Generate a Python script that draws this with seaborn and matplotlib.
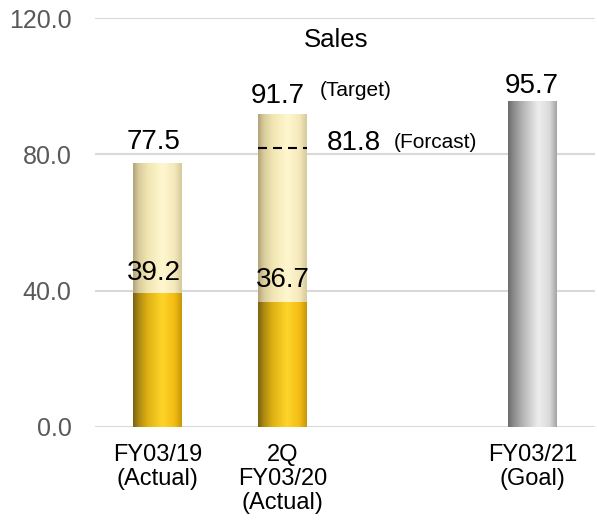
import numpy as np
import pandas as pd
import matplotlib
matplotlib.use("Agg")
import matplotlib.pyplot as plt
from matplotlib.colors import LinearSegmentedColormap
import seaborn as sns

# ---- data -------------------------------------------------------------
categories = ["FY03/19\n(Actual)", "2Q\nFY03/20\n(Actual)", "FY03/21\n(Goal)"]
totals = [77.5, 91.7, 95.7]                 # full-year figures
first_half_cats = ["FY03/19\n(Actual)", "2Q\nFY03/20\n(Actual)"]
first_half = [39.2, 36.7]                   # first-half portion
forecast_value = 81.8                        # FY03/20 forecast
y_ticks = [0, 40, 80, 120]
slot_order = [categories[0], categories[1], " ", categories[2]]

# ---- style ------------------------------------------------------------
sns.set_theme(style="white")
plt.rcParams["font.family"] = ["Liberation Sans", "DejaVu Sans"]

GOLD = [(0.00, "#7a6010"), (0.12, "#ad8a12"), (0.30, "#dfb114"),
        (0.60, "#ffd52a"), (0.85, "#f3bc14"), (1.00, "#c69808")]
PALE = [(0.00, "#b2a378"), (0.12, "#d9cc9c"), (0.30, "#f1e5b2"),
        (0.60, "#fff7cf"), (0.85, "#f5e9bc"), (1.00, "#d5c99c")]
GRAY = [(0.00, "#6c6c6c"), (0.12, "#8c8c8c"), (0.30, "#b4b4b4"),
        (0.62, "#eeeeee"), (0.85, "#dadada"), (1.00, "#a3a3a3")]


def gradient_fill(ax, patch, stops, z):
    """Paint a horizontal gradient inside a bar patch."""
    bb = patch.get_bbox()
    cmap = LinearSegmentedColormap.from_list("bar", stops)
    grad = np.linspace(0, 1, 256)[None, :]
    im = ax.imshow(grad, cmap=cmap, extent=(bb.x0, bb.x1, bb.y0, bb.y1),
                   aspect="auto", origin="lower", interpolation="bicubic",
                   zorder=z)
    im.set_clip_path(patch)
    patch.set_facecolor("none")
    patch.set_edgecolor("none")


fig = plt.figure(figsize=(5.97, 5.27), dpi=100)
ax = fig.add_axes([95 / 597, 1 - 427 / 527, 500 / 597, 409 / 527])

df_total = pd.DataFrame({"period": categories, "sales": totals})
df_half = pd.DataFrame({"period": first_half_cats, "sales": first_half})

sns.barplot(data=df_total, x="period", y="sales", order=slot_order,
            width=0.39, color="#f1e5b2", saturation=1, linewidth=0, ax=ax)
total_patches = list(ax.patches)
sns.barplot(data=df_half, x="period", y="sales", order=slot_order,
            width=0.39, color="#ffd52a", saturation=1, linewidth=0, ax=ax)
half_patches = [p for p in ax.patches if p not in total_patches]

for p, stops in zip(total_patches, [PALE, PALE, GRAY]):
    gradient_fill(ax, p, stops, 2)
for p in half_patches:
    gradient_fill(ax, p, GOLD, 3)

# forecast marker across the FY03/20 bar
bb2 = total_patches[1].get_bbox()
ax.hlines(forecast_value, bb2.x0, bb2.x1, colors="black", linewidth=1.5,
          linestyles=(0, (4.3, 2.9)), zorder=4)

# ---- axes -------------------------------------------------------------
ax.set_xlim(-0.5, 3.5)
ax.set_ylim(0, 120)
ax.set_yticks(y_ticks)
ax.set_yticklabels([f"{v:.1f}" for v in y_ticks])
ax.set_xlabel("")
ax.set_ylabel("")
ax.set_axisbelow(True)
ax.yaxis.grid(True, color="#d9d9d9", linewidth=1.5)
ax.xaxis.grid(False)
for s in ax.spines.values():
    s.set_visible(False)
ax.tick_params(axis="y", length=0, pad=17, labelsize=18, labelcolor="#595959")
ax.tick_params(axis="x", length=0, pad=12.5, labelsize=17, labelcolor="black")
for lab in ax.get_xticklabels():
    lab.set_linespacing(1.1)

# ---- value labels -----------------------------------------------------
def label(x, y, text, dx, dy, size=20):
    ax.annotate(text, xy=(x, y), xytext=(dx, dy), textcoords="offset points",
                ha="center", va="baseline", fontsize=size, color="black",
                zorder=6)

xs_total = [p.get_x() + p.get_width() / 2 for p in total_patches]
xs_half = [p.get_x() + p.get_width() / 2 for p in half_patches]

label(xs_total[0], totals[0], f"{totals[0]:.1f}", -2.9, 10)
label(xs_total[1], totals[1], f"{totals[1]:.1f}", -3.6, 8.4)
label(xs_total[2], totals[2], f"{totals[2]:.1f}", -0.7, 5.8)
label(xs_half[0], first_half[0], f"{first_half[0]:.1f}", -2.5, 10)
label(xs_half[1], first_half[1], f"{first_half[1]:.1f}", 0, 10.8)
label(xs_total[1], totals[1], "(Target)", 52.6, 13.5, size=15)
label(xs_total[1], forecast_value, f"{forecast_value:.1f}", 51.4, -1.2)
label(xs_total[1], forecast_value, "(Forcast)", 109.8, 0, size=15)

fig.text(335.7 / 597, 1 - 46.7 / 527, "Sales", ha="center", va="baseline",
         fontsize=18.5, color="black")

fig.savefig("out.png", dpi=100)
